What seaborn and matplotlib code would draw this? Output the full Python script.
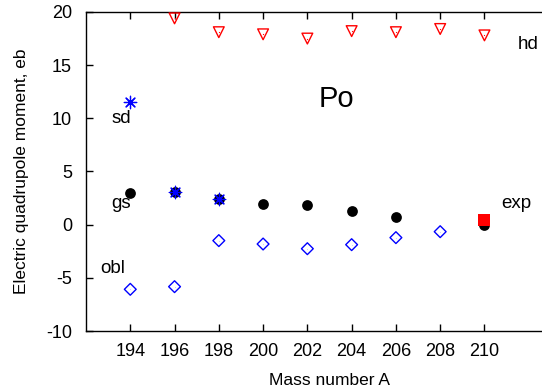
import matplotlib
matplotlib.use("Agg")
import matplotlib.pyplot as plt
import seaborn as sns

sns.set_style("ticks")
plt.rcParams['font.family'] = ['Liberation Sans', 'DejaVu Sans']
plt.rcParams['axes.unicode_minus'] = False
plt.rcParams['text.color'] = 'black'
plt.rcParams['axes.labelcolor'] = 'black'

# Data
hd_A = [196, 198, 200, 202, 204, 206, 208, 210]
hd_Q = [19.4, 18.1, 17.9, 17.5, 18.2, 18.1, 18.4, 17.8]

sd_A = [194, 196, 198]
sd_Q = [11.5, 3.1, 2.4]

gs_A = [194, 196, 198, 200, 202, 204, 206, 210]
gs_Q = [2.95, 3.05, 2.4, 1.92, 1.85, 1.26, 0.75, 0.0]

obl_A = [194, 196, 198, 200, 202, 204, 206, 208]
obl_Q = [-6.08, -5.83, -1.5, -1.82, -2.26, -1.88, -1.22, -0.66]

exp_A = [210]
exp_Q = [0.44]

x_ticks = [194, 196, 198, 200, 202, 204, 206, 208, 210]
y_ticks = [-10, -5, 0, 5, 10, 15, 20]

fig = plt.figure(figsize=(5.42, 3.92), dpi=100)
ax = fig.add_axes([86/542, 1-331/392, 487/542, (331-12)/392])

sns.scatterplot(x=hd_A, y=hd_Q, ax=ax, marker='v', s=60, facecolor='none',
                edgecolor='red', linewidth=1.0, zorder=3)
sns.scatterplot(x=hd_A, y=hd_Q, ax=ax, marker='.', s=3, color='red', linewidth=0, zorder=4)
sns.scatterplot(x=gs_A, y=gs_Q, ax=ax, marker='o', s=60, color='black', linewidth=0, zorder=3)
sns.scatterplot(x=sd_A, y=sd_Q, ax=ax, marker=(8, 2, 0), s=80, color='blue',
                edgecolor='blue', linewidth=0.9, zorder=4)
sns.scatterplot(x=obl_A, y=obl_Q, ax=ax, marker='D', s=36, facecolor='none',
                edgecolor='blue', linewidth=1.0, zorder=3)
sns.scatterplot(x=obl_A, y=obl_Q, ax=ax, marker='.', s=2, color='blue', linewidth=0, zorder=4)
sns.scatterplot(x=exp_A, y=exp_Q, ax=ax, marker='s', s=70, color='red', linewidth=0, zorder=5)

ax.set_xlim(192, 214)
ax.set_ylim(-10, 20)
ax.set_xticks(x_ticks)
ax.set_yticks(y_ticks)
ax.tick_params(direction='in', length=5, width=1, labelsize=13, top=True,
               colors='black', labelcolor='black')
ax.tick_params(axis='x', pad=9)
ax.tick_params(axis='y', pad=10)
for s in ax.spines.values():
    s.set_linewidth(1.0)
    s.set_color('black')

ax.set_xlabel("Mass number A", fontsize=12.5, labelpad=9)
ax.set_ylabel("Electric quadrupole moment, eb", fontsize=12.5, labelpad=12)

ax.text(193.6, 10.0, "sd", fontsize=13.5, ha='center', va='center')
ax.text(193.6, 1.95, "gs", fontsize=13.5, ha='center', va='center')
ax.text(193.2, -4.1, "obl", fontsize=13.5, ha='center', va='center')
ax.text(211.45, 1.95, "exp", fontsize=13.5, ha='center', va='center')
ax.text(211.5, 16.9, "hd", fontsize=13.5, ha='left', va='center')
ax.text(203.3, 11.8, "Po", fontsize=21, ha='center', va='center')

fig.savefig("out.png", dpi=100)
